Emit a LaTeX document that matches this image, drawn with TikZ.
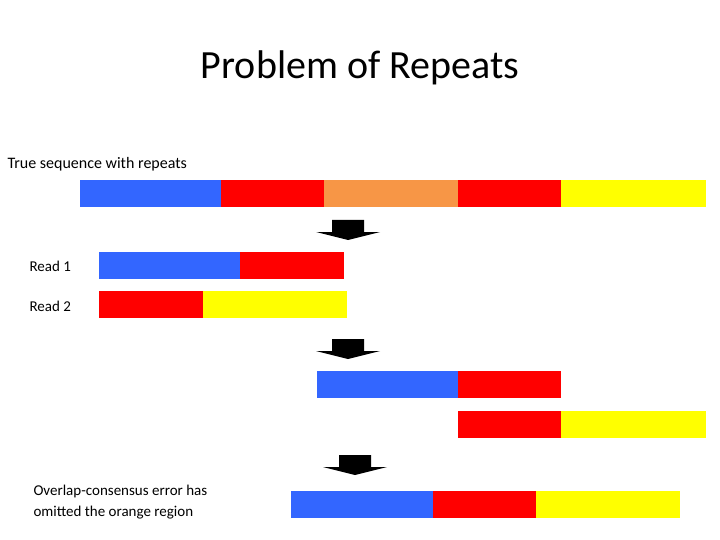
\documentclass[tikz,border=0pt]{standalone}
\usepackage{fontspec}
\setmainfont{Carlito}
\definecolor{cb}{HTML}{3366FF}
\definecolor{cr}{HTML}{FF0000}
\definecolor{co}{HTML}{F79646}
\definecolor{cy}{HTML}{FFFF00}
\begin{document}
\begin{tikzpicture}[x=1pt,y=-1pt]
\useasboundingbox (0,0) rectangle (720,540);
\newcommand{\seg}[4]{\fill[#4] (#1,#3) rectangle (#2,#3+27);}
\newcommand{\darr}[2]{\fill[black] (#1-16,#2) -- (#1+16,#2) -- (#1+16,#2+12) -- (#1+32,#2+12) -- (#1,#2+20) -- (#1-32,#2+12) -- (#1-16,#2+12) -- cycle;}
\node[font=\fontsize{40}{44}\selectfont] (title) at (360,68) {Problem of Repeats};
\node[anchor=west,font=\fontsize{16}{19}\selectfont] (l0) at (4,164) {True sequence with repeats};
\seg{80}{221}{180}{cb}\seg{221}{324}{180}{cr}\seg{324}{458}{180}{co}\seg{458}{561}{180}{cr}\seg{561}{706}{180}{cy}
\darr{348}{220}
\node[anchor=west,font=\fontsize{15}{18}\selectfont] (r1) at (26,266) {Read 1};
\seg{99}{240}{252}{cb}\seg{240}{344}{252}{cr}
\node[anchor=west,font=\fontsize{15}{18}\selectfont] (r2) at (26,306) {Read 2};
\seg{99}{203}{291}{cr}\seg{203}{347}{291}{cy}
\darr{348}{339}
\seg{317}{458}{371}{cb}\seg{458}{561}{371}{cr}
\seg{458}{561}{411}{cr}\seg{561}{706}{411}{cy}
\darr{355}{455}
\node[anchor=west,align=left,font=\fontsize{15}{21}\selectfont] (l3) at (30,502) {Overlap-consensus error has\\omitted the orange region};
\seg{291}{433}{491}{cb}\seg{433}{536}{491}{cr}\seg{536}{680}{491}{cy}
\end{tikzpicture}
\end{document}
